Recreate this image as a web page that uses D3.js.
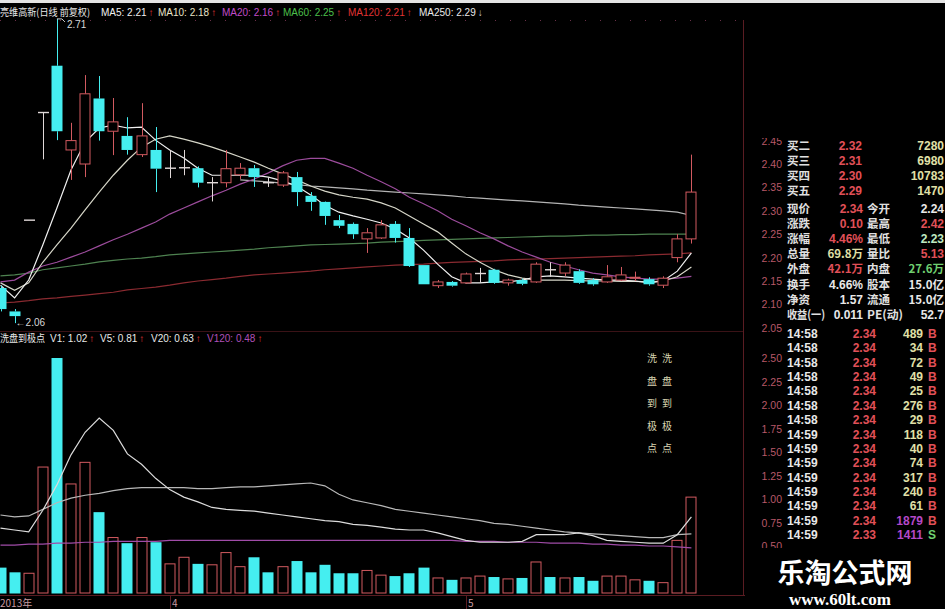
<!DOCTYPE html>
<html>
<head>
<meta charset="utf-8">
<script src="https://cdn.jsdelivr.net/npm/d3@7/dist/d3.min.js"></script>
<style>
html,body{margin:0;padding:0;background:#000;}
svg{display:block;}
</style>
</head>
<body>
<svg id="chart" width="945" height="609"></svg>
<script>
// ---- daily K-line data (前复权) ----
const stockTitle = "亮维高新(日线 前复权)";
const opens  = [2.135,2.085,2.28,2.51,2.61,2.43,2.40,2.54,2.47,2.46,2.42,2.43,2.391,2.392,2.391,2.36,2.36,2.377,2.391,2.36,2.355,2.372,2.332,2.319,2.28,2.272,2.24,2.242,2.272,2.242,2.184,2.140,2.148,2.146,2.166,2.174,2.146,2.152,2.148,2.174,2.167,2.171,2.152,2.148,2.152,2.156,2.154,2.141,2.20,2.24];
const highs  = [2.14,2.09,2.28,2.51,2.71,2.488,2.59,2.588,2.541,2.50,2.53,2.479,2.43,2.43,2.395,2.372,2.43,2.402,2.398,2.372,2.385,2.383,2.34,2.32,2.291,2.275,2.263,2.28,2.278,2.263,2.184,2.152,2.150,2.168,2.178,2.176,2.155,2.155,2.19,2.19,2.19,2.175,2.156,2.184,2.18,2.17,2.158,2.16,2.25,2.42];
const lows   = [2.085,2.06,2.28,2.41,2.451,2.366,2.372,2.45,2.419,2.42,2.415,2.34,2.37,2.376,2.35,2.32,2.35,2.368,2.351,2.351,2.351,2.31,2.30,2.27,2.263,2.24,2.21,2.24,2.232,2.18,2.143,2.135,2.138,2.144,2.146,2.144,2.140,2.141,2.146,2.159,2.16,2.144,2.14,2.146,2.15,2.15,2.14,2.135,2.19,2.23];
const closes = [2.09,2.075,2.28,2.51,2.47,2.45,2.55,2.47,2.49,2.43,2.46,2.39,2.391,2.392,2.36,2.36,2.39,2.391,2.372,2.36,2.381,2.34,2.319,2.289,2.268,2.25,2.253,2.27,2.242,2.182,2.143,2.148,2.140,2.165,2.166,2.146,2.152,2.144,2.186,2.174,2.184,2.146,2.143,2.159,2.163,2.158,2.143,2.156,2.24,2.34];
const volumes = [0.27,0.22,0.21,1.34,2.50,1.16,1.39,0.86,0.59,0.53,0.59,0.54,0.31,0.38,0.31,0.30,0.43,0.28,0.38,0.22,0.28,0.34,0.22,0.30,0.21,0.21,0.24,0.19,0.18,0.21,0.27,0.16,0.14,0.16,0.18,0.17,0.15,0.16,0.33,0.17,0.16,0.17,0.13,0.18,0.18,0.14,0.13,0.11,0.56,1.02];

// moving averages on the price panel
const ma5   = [2.141,2.114,2.152,2.227,2.306,2.387,2.447,2.477,2.483,2.477,2.479,2.451,2.43,2.413,2.391,2.376,2.376,2.376,2.376,2.372,2.364,2.353,2.334,2.312,2.297,2.289,2.282,2.274,2.261,2.242,2.216,2.186,2.159,2.146,2.146,2.148,2.148,2.152,2.159,2.161,2.159,2.156,2.154,2.152,2.152,2.15,2.146,2.15,2.171,2.21];
const ma10  = [2.146,2.13,2.146,2.19,2.227,2.263,2.302,2.34,2.376,2.408,2.436,2.453,2.46,2.453,2.445,2.436,2.426,2.415,2.404,2.391,2.379,2.366,2.353,2.342,2.334,2.329,2.325,2.317,2.306,2.289,2.272,2.255,2.231,2.208,2.19,2.174,2.163,2.156,2.152,2.152,2.152,2.151,2.15,2.15,2.149,2.149,2.148,2.15,2.159,2.18];
const ma20  = [2.148,2.152,2.169,2.182,2.19,2.201,2.212,2.225,2.238,2.25,2.263,2.276,2.293,2.306,2.319,2.332,2.344,2.357,2.368,2.381,2.396,2.408,2.412,2.412,2.402,2.391,2.376,2.362,2.347,2.329,2.315,2.30,2.282,2.268,2.253,2.24,2.225,2.212,2.201,2.19,2.182,2.174,2.167,2.163,2.159,2.156,2.154,2.154,2.156,2.16];
const ma60  = [2.161,2.163,2.167,2.174,2.178,2.182,2.186,2.191,2.194,2.197,2.199,2.202,2.206,2.208,2.21,2.212,2.214,2.216,2.218,2.221,2.223,2.225,2.227,2.228,2.229,2.23,2.231,2.233,2.234,2.235,2.237,2.238,2.239,2.24,2.241,2.242,2.243,2.244,2.245,2.246,2.246,2.247,2.248,2.248,2.249,2.249,2.25,2.25,2.25,2.25];
const ma120 = [2.103,2.105,2.108,2.112,2.114,2.117,2.12,2.123,2.126,2.131,2.134,2.137,2.141,2.146,2.15,2.153,2.156,2.16,2.163,2.165,2.167,2.169,2.171,2.174,2.176,2.178,2.18,2.182,2.184,2.185,2.186,2.188,2.19,2.191,2.192,2.193,2.195,2.196,2.197,2.198,2.199,2.2,2.201,2.202,2.203,2.204,2.206,2.207,2.208,2.21];
const ma250 = [null,null,null,null,null,null,null,null,null,null,null,null,null,null,null,null,null,2.366,2.364,2.362,2.359,2.356,2.353,2.351,2.349,2.347,2.344,2.342,2.34,2.338,2.336,2.334,2.332,2.329,2.327,2.325,2.323,2.321,2.319,2.317,2.315,2.312,2.31,2.308,2.306,2.304,2.302,2.30,2.297,2.29];

// volume panel indicator lines
const v5   = [0.69,0.67,0.65,0.88,1.15,1.47,1.71,1.86,1.73,1.48,1.37,1.22,1.10,1.02,0.97,0.91,0.89,0.88,0.87,0.85,0.83,0.81,0.79,0.77,0.76,0.73,0.72,0.70,0.68,0.67,0.67,0.64,0.60,0.56,0.54,0.54,0.54,0.55,0.62,0.62,0.62,0.64,0.61,0.56,0.55,0.54,0.53,0.53,0.62,0.81];
const v20  = [0.83,0.81,0.82,0.89,0.96,1.01,1.04,1.06,1.09,1.11,1.12,1.12,1.12,1.12,1.11,1.11,1.12,1.13,1.13,1.14,1.15,1.16,1.17,1.14,1.05,0.99,0.96,0.93,0.89,0.87,0.85,0.83,0.81,0.79,0.77,0.74,0.73,0.71,0.69,0.67,0.65,0.64,0.63,0.62,0.61,0.60,0.59,0.59,0.62,0.63];
const v120 = [0.51,0.51,0.52,0.52,0.53,0.53,0.54,0.54,0.55,0.55,0.55,0.55,0.56,0.56,0.56,0.56,0.56,0.56,0.56,0.56,0.56,0.56,0.56,0.56,0.56,0.56,0.56,0.56,0.56,0.56,0.56,0.56,0.56,0.55,0.55,0.55,0.54,0.54,0.54,0.53,0.53,0.53,0.52,0.52,0.51,0.51,0.50,0.50,0.49,0.48];

// axis labels
const priceTicks  = [2.05,2.10,2.15,2.20,2.25,2.30,2.35,2.40,2.45];
const volumeTicks = [0.50,0.75,1.00,1.25,1.50,1.75,2.00,2.25,2.50];
const monthStart  = [0,12,33];
const monthText   = ["2013年","4","5"];

// quote panel
const bidLabels = ["买二","买三","买四","买五"];
const bidPrices = ["2.32","2.31","2.30","2.29"];
const bidVols   = ["7280","6980","10783","1470"];
const quoteLabelsL = ["现价","涨跌","涨幅","总量","外盘","换手","净资","收益(一)"];
const quoteValuesL = ["2.34","0.10","4.46%","69.8万","42.1万","4.66%","1.57","0.011"];
const quoteLabelsR = ["今开","最高","最低","量比","内盘","股本","流通","PE(动)"];
const quoteValuesR = ["2.24","2.42","2.23","5.13","27.6万","15.0亿","15.0亿","52.7"];
const tradeTimes  = ["14:58","14:58","14:58","14:58","14:58","14:58","14:58","14:59","14:59","14:59","14:59","14:59","14:59","14:59","14:59"];
const tradePrices = ["2.34","2.34","2.34","2.34","2.34","2.34","2.34","2.34","2.34","2.34","2.34","2.34","2.34","2.34","2.33"];
const tradeVols   = [489,34,72,49,25,276,29,118,40,74,317,240,61,1879,1411];
const tradeSides  = ["B","B","B","B","B","B","B","B","B","B","B","B","B","B","S"];
const washText = ["洗","盘","到","极","点"];

// ---- styles ----
const RED = "#d25a60", CYAN = "#45eef0";
const AXIS = "#b85868";
const CJK = "'Noto Sans CJK SC', 'Noto Sans', sans-serif";
const NUM = "'Liberation Sans', 'Noto Sans CJK SC', sans-serif";

const svg = d3.select("#chart");
svg.append("rect").attr("width",945).attr("height",609).attr("fill","#000");
svg.append("rect").attr("width",945).attr("height",3).attr("fill","#e4e4e4");

const N = closes.length;
const x  = d3.scaleLinear().domain([0, N-1]).range([0.5, 691.4]);
const yP = d3.scaleLinear().domain([2.05, 2.45]).range([327.8, 140.6]);
const yV = d3.scaleLinear().domain([0, 2.5]).range([593, 358]);
const bw = 11;

const defs = svg.append("defs");
defs.append("clipPath").attr("id","clipP").append("rect").attr("x",0).attr("y",18).attr("width",742).attr("height",313);
defs.append("clipPath").attr("id","clipV").append("rect").attr("x",0).attr("y",346).attr("width",742).attr("height",248);
defs.append("clipPath").attr("id","clipR").append("rect").attr("x",744).attr("y",138).attr("width",201).attr("height",410);

// frame lines
svg.append("line").attr("x1",743.5).attr("x2",743.5).attr("y1",20).attr("y2",596).attr("stroke","#5a1c22");
svg.append("line").attr("x1",0).attr("x2",743).attr("y1",331.5).attr("y2",331.5).attr("stroke","#3a1216");
svg.append("line").attr("x1",0).attr("x2",945).attr("y1",595.5).attr("y2",595.5).attr("stroke","#5a1c22");
svg.append("line").attr("x1",0).attr("x2",743).attr("y1",20.5).attr("y2",20.5)
  .attr("stroke","#6a3048").attr("stroke-dasharray","1,14");

// ---- price panel ----
const gP = svg.append("g").attr("clip-path","url(#clipP)");

const maDefs = [
  {vals: ma250, color:"#b4b4b4"},
  {vals: ma120, color:"#8a2a30"},
  {vals: ma60,  color:"#4e8250"},
  {vals: ma20,  color:"#9c4c9c"},
  {vals: ma10,  color:"#d6d6c8"},
  {vals: ma5,   color:"#f0f0f0"}
];
const lineP = d3.line().defined(d => d != null).x((d,i) => x(i)).y(d => yP(d));
maDefs.forEach(m => {
  gP.append("path").datum(m.vals).attr("d", lineP).attr("fill","none")
    .attr("stroke", m.color).attr("stroke-width",1.2);
});

const dirOf = i => {
  if (closes[i] > opens[i]) return 1;
  if (closes[i] < opens[i]) return -1;
  return 0;
};
const volUp = i => {
  const d = dirOf(i);
  if (d !== 0) return d > 0;
  return i === 0 ? true : closes[i] >= closes[i-1];
};

d3.range(N).forEach(i => {
  const cx = Math.round(x(i)) + 0.5;
  const d = dirOf(i);
  const col = d > 0 ? RED : d < 0 ? CYAN : "#e0d8d8";
  const top = yP(Math.max(opens[i], closes[i]));
  const bot = yP(Math.min(opens[i], closes[i]));
  const g = gP.append("g");
  g.append("line").attr("x1",cx).attr("x2",cx).attr("y1",yP(highs[i])).attr("y2",top).attr("stroke",col);
  g.append("line").attr("x1",cx).attr("x2",cx).attr("y1",bot).attr("y2",yP(lows[i])).attr("stroke",col);
  if (d > 0) {
    g.append("rect").attr("x",cx-bw/2).attr("y",top).attr("width",bw-1).attr("height",Math.max(1,bot-top))
      .attr("fill","#000").attr("stroke",RED);
  } else if (d < 0) {
    g.append("rect").attr("x",cx-bw/2-0.5).attr("y",top).attr("width",bw).attr("height",Math.max(1,bot-top))
      .attr("fill",CYAN);
  } else {
    g.append("line").attr("x1",cx-bw/2).attr("x2",cx+bw/2).attr("y1",top).attr("y2",top).attr("stroke",col).attr("stroke-width",1.4);
  }
});

// high / low markers
const iHi = d3.maxIndex(highs), iLo = d3.minIndex(lows);
const hx = x(iHi), hy = yP(highs[iHi]);
svg.append("path").attr("d",`M${hx},${hy} h5 l3,3`).attr("fill","none").attr("stroke","#d0d0d0");
svg.append("text").attr("x",hx+10).attr("y",hy+9).text(highs[iHi].toFixed(2))
  .attr("fill","#d8d8d8").attr("font-family",NUM).attr("font-size",10);
const lx = x(iLo), ly = yP(lows[iLo]);
svg.append("text").attr("x",lx+1).attr("y",ly+3).text("←" + lows[iLo].toFixed(2))
  .attr("fill","#d8d8d8").attr("font-family",NUM).attr("font-size",10);

// header row
const headerItems = [
  {t:"MA5: "  + ma5[N-1].toFixed(2),  c:"#f0f0f0", a:"↑", ac:"#e03838"},
  {t:"MA10: " + ma10[N-1].toFixed(2), c:"#e8e4c8", a:"↑", ac:"#e03838"},
  {t:"MA20: " + ma20[N-1].toFixed(2), c:"#c04cc8", a:"↑", ac:"#e03838"},
  {t:"MA60: " + ma60[N-1].toFixed(2), c:"#4cc04c", a:"↑", ac:"#e03838"},
  {t:"MA120: "+ ma120[N-1].toFixed(2),c:"#e03434", a:"↑", ac:"#e03838"},
  {t:"MA250: "+ ma250[N-1].toFixed(2),c:"#eaeaea", a:"↓", ac:"#d0d0d0"}
];
const headerX = [101,158,222,283,348,419];
svg.append("text").attr("x",0).attr("y",16).text(stockTitle)
  .attr("textLength",90).attr("lengthAdjust","spacingAndGlyphs")
  .attr("fill","#e8e8e8").attr("font-family",CJK).attr("font-size",10);
headerItems.forEach((h,k) => {
  const t = svg.append("text").attr("x",headerX[k]).attr("y",16).attr("font-family",NUM).attr("font-size",10);
  t.append("tspan").attr("fill",h.c).text(h.t);
  t.append("tspan").attr("fill",h.ac).attr("dx",2).text(h.a);
});

// ---- volume panel ----
const gV = svg.append("g").attr("clip-path","url(#clipV)");
d3.range(N).forEach(i => {
  const cx = Math.round(x(i)) + 0.5;
  const up = volUp(i);
  const top = yV(volumes[i]);
  if (up) {
    gV.append("rect").attr("x",cx-bw/2).attr("y",top).attr("width",bw-1).attr("height",yV(0)-top)
      .attr("fill","#000").attr("stroke",RED);
  } else {
    gV.append("rect").attr("x",cx-bw/2-0.5).attr("y",top).attr("width",bw).attr("height",yV(0)-top+0.5)
      .attr("fill",CYAN);
  }
});
const lineV = d3.line().x((d,i) => x(i)).y(d => yV(d));
[{vals:v120,color:"#a04ca8"},{vals:v20,color:"#b8b8b8"},{vals:v5,color:"#dcdcdc"}].forEach(m => {
  gV.append("path").datum(m.vals).attr("d",lineV).attr("fill","none").attr("stroke",m.color).attr("stroke-width",1.2);
});

// volume header
const vHead = [
  {t:"V1: "  + volumes[N-1].toFixed(2), c:"#e8e8e8"},
  {t:"V5: "  + v5[N-1].toFixed(2),  c:"#e8e8e8"},
  {t:"V20: " + v20[N-1].toFixed(2), c:"#e8e8e8"},
  {t:"V120: "+ v120[N-1].toFixed(2),c:"#b050b8"}
];
const vHeadX = [50,100,151,207];
svg.append("text").attr("x",0).attr("y",342).text("洗盘到极点")
  .attr("textLength",45).attr("lengthAdjust","spacingAndGlyphs")
  .attr("fill","#e8e8e8").attr("font-family",CJK).attr("font-size",10);
vHead.forEach((h,k) => {
  const t = svg.append("text").attr("x",vHeadX[k]).attr("y",342).attr("font-family",NUM).attr("font-size",10);
  t.append("tspan").attr("fill",h.c).text(h.t);
  t.append("tspan").attr("fill","#e03838").attr("dx",2).text("↑");
});

// vertical caption in the volume panel
washText.forEach((ch,k) => {
  [652,667].forEach(cx => {
    svg.append("text").attr("x",cx).attr("y",362 + k*22.6).attr("text-anchor","middle").text(ch)
      .attr("fill","#d8d4b0").attr("font-family",CJK).attr("font-size",10);
  });
});

// ---- time axis ----
monthStart.forEach((idx,k) => {
  const mx = k === 0 ? 0 : Math.round(x(idx));
  if (k > 0) svg.append("line").attr("x1",mx+0.5).attr("x2",mx+0.5).attr("y1",596).attr("y2",609).attr("stroke","#5a1c22");
  svg.append("text").attr("x",mx + (k===0?0:2)).attr("y",607).text(monthText[k])
    .attr("fill","#c89aa0").attr("font-family",CJK).attr("font-size",10);
});

// ---- right side: axis labels + quote panel ----
const gR = svg.append("g").attr("clip-path","url(#clipR)");
priceTicks.forEach(p => {
  gR.append("text").attr("x",782).attr("y",yP(p)+4).attr("text-anchor","end").text(p.toFixed(2))
    .attr("fill",AXIS).attr("font-family",NUM).attr("font-size",10.5);
});
volumeTicks.forEach(v => {
  gR.append("text").attr("x",782).attr("y",yV(v)+4).attr("text-anchor","end").text(v.toFixed(2))
    .attr("fill",AXIS).attr("font-family",NUM).attr("font-size",10.5);
});

const txt = (g, xx, yy, s, color, anchor, fam, size) =>
  g.append("text").attr("x",xx).attr("y",yy).attr("text-anchor",anchor||"start").text(s)
   .attr("fill",color).attr("font-family",fam||NUM).attr("font-size",size||12).attr("font-weight","bold");

const bidY = [145,160,175,190];
bidLabels.forEach((l,k) => {
  txt(gR, 787, bidY[k]+5, l, "#e0e0e0", "start", CJK, 11.5);
  txt(gR, 862, bidY[k]+5, bidPrices[k], "#e05058", "end");
  txt(gR, 944, bidY[k]+5, bidVols[k], "#e0e0a8", "end");
});
const qColL = ["#e05058","#e05058","#e05058","#e0e0a8","#e05058","#e8e8e8","#e8e8e8","#e8e8e8"];
const qColR = ["#e8e8e8","#e05058","#bfe8c0","#e05058","#70d070","#e8e8e8","#e8e8e8","#e8e8e8"];
quoteLabelsL.forEach((l,k) => {
  const yy = 208 + k*15.1 + 5;
  const lab = txt(gR, 787, yy, l, "#e0e0e0", "start", CJK, 11.5);
  if (l.length > 2) lab.attr("textLength",38).attr("lengthAdjust","spacingAndGlyphs");
  txt(gR, 863, yy, quoteValuesL[k], qColL[k], "end", k===3||k===4 ? CJK : NUM, k===3||k===4 ? 11.5 : 12);
  const labR = txt(gR, 867, yy, quoteLabelsR[k], "#e0e0e0", "start", CJK, 11.5);
  if (quoteLabelsR[k].length > 2) labR.attr("textLength",36).attr("lengthAdjust","spacingAndGlyphs");
  txt(gR, 944, yy, quoteValuesR[k], qColR[k], "end", k>=4&&k<=6 ? CJK : NUM, k>=4&&k<=6 ? 11.5 : 12);
});
tradeTimes.forEach((t,k) => {
  const yy = 333 + k*14.36 + 5;
  txt(gR, 787, yy, t, "#e8e8e8");
  txt(gR, 876, yy, tradePrices[k], "#e05058", "end");
  txt(gR, 923, yy, String(tradeVols[k]), tradeVols[k] > 1000 ? "#b448c8" : "#e0e0a8", "end");
  txt(gR, 928, yy, tradeSides[k], tradeSides[k] === "B" ? "#e05058" : "#70d070");
});

// watermark block
svg.append("rect").attr("x",745).attr("y",549).attr("width",200).attr("height",60).attr("fill","#000");
svg.append("text").attr("x",845).attr("y",583).attr("text-anchor","middle").text("乐淘公式网")
  .attr("fill","#ffffff").attr("font-family",CJK).attr("font-weight","bold").attr("font-size",27);
svg.append("text").attr("x",840).attr("y",605).attr("text-anchor","middle").text("www.60lt.com")
  .attr("fill","#ffffff").attr("font-family","'Liberation Serif', serif").attr("font-weight","bold").attr("font-size",17);
</script>
</body>
</html>
